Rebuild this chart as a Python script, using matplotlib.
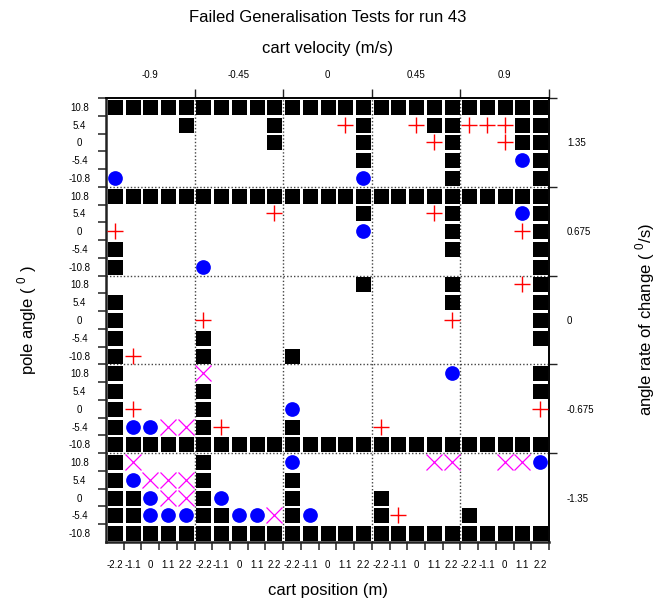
import numpy as np
import matplotlib
matplotlib.use('Agg')
import matplotlib.pyplot as plt

plt.rcParams['font.family'] = ['Liberation Sans', 'DejaVu Sans']
plt.rcParams['mathtext.fontset'] = 'custom'
plt.rcParams['mathtext.rm'] = 'Liberation Sans'

cart_velocity = ['-0.9', '-0.45', '0', '0.45', '0.9']
angle_rate = ['1.35', '0.675', '0', '-0.675', '-1.35']
cart_position = ['-2.2', '-1.1', '0', '1.1', '2.2']
pole_angle = ['10.8', '5.4', '0', '-5.4', '-10.8']

# one string per pole angle (10.8 .. -10.8), 5 velocity blocks of 5 cart positions
# s = square, o = circle, + = plus, x = cross, . = nothing
rate_135 = [
    "sssss sssss sssss sssss sssss",
    "....s ....s ...+s ..+ss +++ss",
    "..... ....s ....s ...+s ..+ss",
    "..... ..... ....s ....s ...os",
    "o.... ..... ....o ....s ....s",
]
rate_0675 = [
    "sssss sssss sssss sssss sssss",
    "..... ....+ ....s ...+s ...os",
    "+.... ..... ....o ....s ...+s",
    "s.... ..... ..... ....s ....s",
    "s.... o.... ..... ..... ....s",
]
rate_0 = [
    "..... ..... ....s ....s ...+s",
    "s.... ..... ..... ....s ....s",
    "s.... +.... ..... ....+ ....s",
    "s.... s.... ..... ..... ....s",
    "s+... s.... s.... ..... .....",
]
rate_m0675 = [
    "s.... x.... ..... ....o ....s",
    "s.... s.... ..... ..... ....s",
    "s+... s.... o.... ..... ....+",
    "sooxx s+... s.... +.... .....",
    "sssss sssss sssss sssss sssss",
]
rate_m135 = [
    "sx... s.... o.... ...xx ..xxo",
    "soxxx s.... s.... ..... .....",
    "ssoxx so... s.... s.... .....",
    "ssooo ssoox so... s+... s....",
    "sssss sssss sssss sssss sssss",
]
bands = [rate_135, rate_0675, rate_0, rate_m0675, rate_m135]

styles = {
    's': dict(marker='s', ms=10.8, color='black', mew=0),
    'o': dict(marker='o', ms=10.6, color='#0000ff', mew=0),
    '+': dict(marker='+', ms=11, color='#ff0000', mew=1.0),
    'x': dict(marker='x', ms=11, color='#ff00ff', mew=0.9),
}

W, H = 658, 603
fig = plt.figure(figsize=(W / 100, H / 100), dpi=100)
ax = fig.add_axes([106 / W, 1 - 542 / H, 443 / W, 444 / H])
ax.set_xlim(0, 25)
ax.set_ylim(0, 25)

n = len(cart_position)
for k in [5, 10, 15, 20]:
    ax.axvline(k, color='#444444', lw=1, ls=(0, (1, 1.5)), zorder=1)
    ax.axhline(k, color='#444444', lw=1, ls=(0, (1, 1.5)), zorder=1)

for code in ['s', 'o', '+', 'x']:
    xs, ys = [], []
    for b, band in enumerate(bands):
        for j, row in enumerate(band):
            cells = row.replace(' ', '')
            for i, c in enumerate(cells):
                if c == code:
                    xs.append(i + 0.5)
                    ys.append(25 - (b * n + j) - 0.5)
    ax.plot(xs, ys, ls='none', zorder=3, **styles[code])

# inner axes: cart position (bottom) and pole angle (left)
ax.set_xticks(np.arange(1, 26))
ax.set_xticks(np.arange(25) + 0.5, minor=True)
ax.set_xticklabels([], minor=False)
ax.set_xticklabels(cart_position * 5, minor=True, fontsize=7)
ax.set_yticks(np.arange(1, 26))
ax.set_yticks(np.arange(25) + 0.5, minor=True)
ax.set_yticklabels([], minor=False)
ax.set_yticklabels((pole_angle * 5)[::-1], minor=True, fontsize=7, ha='center')
ax.tick_params(which='major', direction='out', length=5.8, width=1.1, color='#222222')
ax.tick_params(which='minor', length=0)
ax.tick_params(axis='x', which='minor', pad=13)
ax.tick_params(axis='y', which='minor', pad=19)

# outer axes: cart velocity (top) and angle rate (right)
top = ax.secondary_xaxis('top')
top.set_xticks([5, 10, 15, 20, 25])
top.set_xticks([2.5, 7.5, 12.5, 17.5, 22.5], minor=True)
top.set_xticklabels([], minor=False)
top.set_xticklabels(cart_velocity, minor=True, fontsize=7)
top.tick_params(which='major', direction='out', length=6.5, width=1.0, color='#222222')
top.tick_params(which='minor', length=0, pad=13)

right = ax.secondary_yaxis('right')
right.set_yticks([5, 10, 15, 20, 25])
right.set_yticks([22.5, 17.5, 12.5, 7.5, 2.5], minor=True)
right.set_yticklabels([], minor=False)
right.set_yticklabels(angle_rate, minor=True, fontsize=7)
right.tick_params(which='major', direction='out', length=5.5, width=1.0, color='#222222')
right.tick_params(which='minor', length=0, pad=13)

for side in ['left', 'bottom']:
    ax.spines[side].set_linewidth(1.8)
    ax.spines[side].set_color('#222222')
for side in ['top', 'right']:
    ax.spines[side].set_linewidth(1.2)
top.spines['top'].set_linewidth(1.2)
right.spines['right'].set_linewidth(1.2)

fig.text(327.5 / W, 1 - 17 / H, 'Failed Generalisation Tests for run 43',
         ha='center', va='center', fontsize=12)
fig.text(327.5 / W, 1 - 49 / H, 'cart velocity (m/s)', ha='center', va='center', fontsize=12)
fig.text(327.5 / W, 1 - 591 / H, 'cart position (m)', ha='center', va='center', fontsize=12)
fig.text(27 / W, 1 - 320 / H, r'pole angle ( $^{\mathregular{0}}$ )', ha='center', va='center',
         rotation=90, fontsize=12)
fig.text(645 / W, 1 - 320 / H, r'angle rate of change ( $^{\mathregular{0}}$/s)', ha='center',
         va='center', rotation=90, fontsize=12)

fig.savefig('out.png', dpi=100)
